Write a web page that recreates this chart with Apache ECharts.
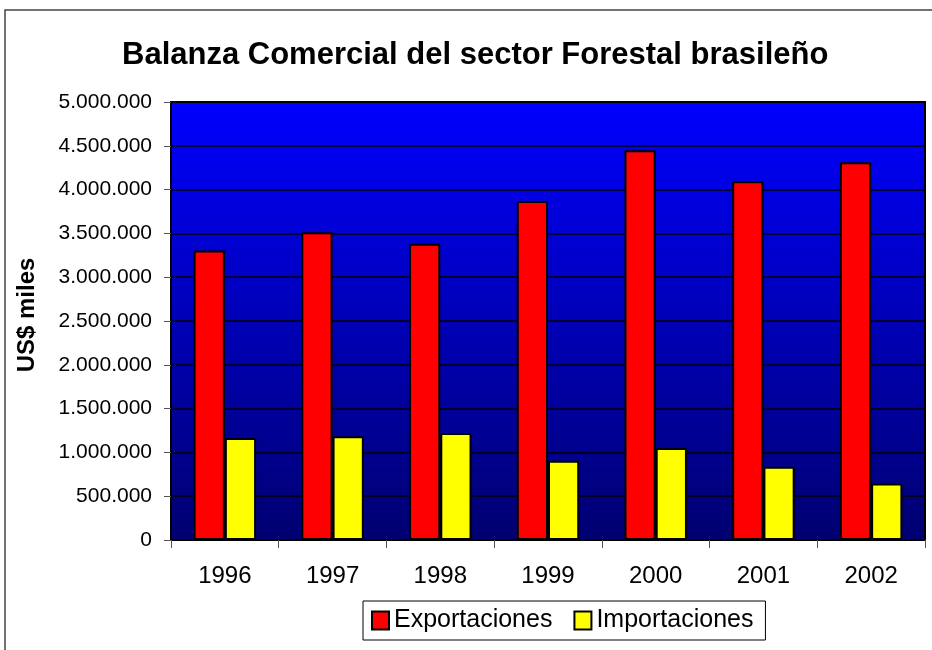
<!DOCTYPE html>
<html>
<head>
<meta charset="utf-8">
<script src="https://cdn.jsdelivr.net/npm/echarts@6/dist/echarts.min.js"></script>
<style>
  html, body { margin: 0; padding: 0; background: #fff; }
  #chart { width: 932px; height: 650px; }
</style>
</head>
<body>
<div id="chart"></div>
<script>
const years = ['1996', '1997', '1998', '1999', '2000', '2001', '2002']
const exportaciones = [3304000, 3514000, 3381000, 3871000, 4449000, 4096000, 4312000]
const importaciones = [1165000, 1184000, 1222000, 906000, 1051000, 835000, 644000]

// miles con punto: 5000000 -> 5.000.000
function fmt(v) {
  return String(v).replace(/\B(?=(\d{3})+(?!\d))/g, '.')
}

const chart = echarts.init(document.getElementById('chart'))
const font = 'Liberation Sans, Arial, sans-serif'

chart.setOption({
  animation: false,
  textStyle: { fontFamily: font },
  title: {
    text: 'Balanza Comercial del sector Forestal brasileño',
    left: 117,
    top: 35,
    textStyle: { fontSize: 31, fontWeight: 'bold', color: '#000', fontFamily: font }
  },
  graphic: [
    {
      type: 'rect',
      shape: { x: 5, y: 10, width: 960, height: 700 },
      style: { fill: 'none', stroke: '#444', lineWidth: 1.5 },
      silent: true
    }
  ],
  legend: {
    data: ['Exportaciones', 'Importaciones'],
    left: 363,
    top: 601,
    itemWidth: 17,
    itemHeight: 18,
    itemGap: 21,
    padding: [7, 12, 7, 8],
    borderColor: '#000',
    borderWidth: 1,
    icon: 'rect',
    textStyle: { fontSize: 25, color: '#000', fontFamily: font }
  },
  grid: {
    left: 171,
    right: 7,
    top: 102,
    bottom: 110,
    show: true,
    borderColor: '#000',
    borderWidth: 2,
    backgroundColor: new echarts.graphic.LinearGradient(0, 0, 0, 1, [
      { offset: 0, color: '#0000ff' },
      { offset: 1, color: '#000070' }
    ])
  },
  xAxis: {
    type: 'category',
    data: years,
    axisLine: { lineStyle: { color: '#000', width: 2 } },
    axisTick: { show: true, length: 8, lineStyle: { color: '#555' } },
    axisLabel: { fontSize: 24, color: '#000', margin: 24, fontFamily: font }
  },
  yAxis: {
    type: 'value',
    min: 0,
    max: 5000000,
    interval: 500000,
    name: 'US$ miles',
    nameLocation: 'middle',
    nameGap: 132,
    nameTextStyle: { fontSize: 24, fontWeight: 'bold', color: '#000', fontFamily: font, padding: [0, 0, 0, 12] },
    axisLine: { show: true, lineStyle: { color: '#000', width: 2 } },
    axisTick: { show: true, length: 7, lineStyle: { color: '#555' } },
    splitLine: { lineStyle: { color: '#000', width: 1.5 } },
    axisLabel: { fontSize: 21, color: '#000', margin: 19, fontFamily: font, formatter: fmt }
  },
  series: [
    {
      name: 'Exportaciones',
      type: 'bar',
      data: exportaciones,
      barGap: '0%',
      barCategoryGap: '42%',
      itemStyle: { color: '#ff0000', borderColor: '#000', borderWidth: 2 }
    },
    {
      name: 'Importaciones',
      type: 'bar',
      data: importaciones,
      itemStyle: { color: '#ffff00', borderColor: '#000', borderWidth: 2 }
    }
  ]
})
</script>
</body>
</html>
